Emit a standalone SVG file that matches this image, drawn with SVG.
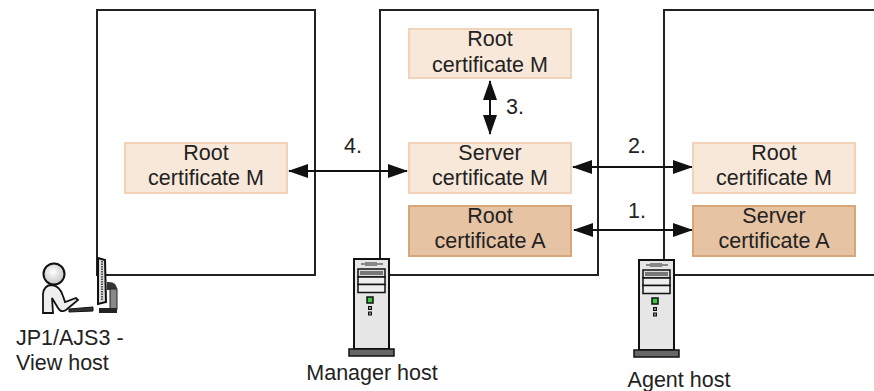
<svg xmlns="http://www.w3.org/2000/svg" width="874" height="391" viewBox="0 0 874 391">
<style>
text{font-family:"Liberation Sans",Arial,sans-serif;font-size:21.5px;fill:#222;text-anchor:middle}
.host{fill:#fff;stroke:#222;stroke-width:2}
.lt{fill:#f8e8da;stroke:#f0d3b8;stroke-width:2}
.dk{fill:#e6c3a3;stroke:#d9a67c;stroke-width:2}
.conn{stroke:#111;stroke-width:2;fill:none;marker-start:url(#a);marker-end:url(#a)}
.srv{fill:#e6e6e6;stroke:#111;stroke-width:2}
.slot{fill:#eee;stroke:#111;stroke-width:1.5}
</style>
<defs>
<marker id="a" viewBox="0 0 20 14" refX="19" refY="7" markerWidth="20" markerHeight="14" markerUnits="userSpaceOnUse" orient="auto-start-reverse"><path d="M0 0L20 7L0 14Z" fill="#111"/></marker>
<radialGradient id="h" cx="0.45" cy="0.4" r="0.7"><stop offset="0" stop-color="#fff"/><stop offset="1" stop-color="#bbb"/></radialGradient>
<g id="server">
<rect x="14" y="10" width="35" height="90" class="srv"/>
<path d="M21 15H43" stroke="#888" stroke-width="2"/><rect x="25" y="13" width="12" height="4" fill="#888"/>
<rect x="18" y="20" width="27" height="8" fill="#ddd" stroke="#111" stroke-width="1.5"/>
<rect x="20" y="22" width="23" height="4" fill="#777"/>
<rect x="18" y="28" width="27" height="7.500" class="slot"/>
<rect x="18" y="35.500" width="27" height="8" class="slot"/>
<rect x="27" y="48" width="6" height="6" fill="#3fc93f" stroke="#111" stroke-width="1.500"/>
<rect x="28.500" y="57.500" width="3" height="3" fill="#888" stroke="#111" stroke-width="1"/>
<rect x="28.500" y="63" width="3" height="3" fill="#888" stroke="#111" stroke-width="1"/>
<rect x="9" y="100" width="45" height="7" fill="#666" stroke="#111" stroke-width="1.500"/>
</g>
</defs>

<g id="view-box"><path class="host" d="M97 10H315V275H97Z"/></g>
<g id="manager-box"><rect class="host" x="380" y="10" width="218" height="265"/></g>
<g id="agent-box"><path class="host" d="M874 10H664V275H874"/></g>

<g id="connectors">
<line class="conn" x1="289" y1="171" x2="407" y2="171"/>
<line class="conn" x1="573" y1="167" x2="692" y2="167"/>
<line class="conn" x1="574" y1="230" x2="692" y2="230"/>
<line class="conn" x1="490" y1="81" x2="490" y2="134"/>
</g>

<g id="cert-view"><rect class="lt" x="125" y="143" width="162" height="50"/><text x="206" y="160">Root</text><text x="206" y="185">certificate M</text></g>
<g id="cert-m-root"><rect class="lt" x="409" y="29" width="162" height="49"/><text x="490" y="46">Root</text><text x="490" y="72">certificate M</text></g>
<g id="cert-m-server"><rect class="lt" x="409" y="143" width="162" height="50"/><text x="490" y="160">Server</text><text x="490" y="185">certificate M</text></g>
<g id="cert-a-root"><rect class="dk" x="409" y="206" width="162" height="50"/><text x="490" y="223">Root</text><text x="490" y="248">certificate A</text></g>
<g id="cert-agent-root"><rect class="lt" x="693" y="143" width="162" height="50"/><text x="774" y="160">Root</text><text x="774" y="185">certificate M</text></g>
<g id="cert-agent-server"><rect class="dk" x="693" y="206" width="162" height="50"/><text x="774" y="223">Server</text><text x="774" y="248">certificate A</text></g>

<g id="labels">
<text x="353" y="153">4.</text>
<text x="515" y="114">3.</text>
<text x="637" y="153">2.</text>
<text x="637" y="218">1.</text>
</g>

<g id="view-host">
<circle cx="54" cy="274" r="10.500" fill="url(#h)" stroke="#111" stroke-width="2"/>
<path d="M43 313V294Q44 285 52 285Q60 286 63 296L65 302L76 298L78 300L66 310Q61 313 58 308L52 298L53 313Z" fill="#eee" stroke="#111" stroke-width="1.800"/>
<path d="M69 309L93 307V311L69 312Z" fill="#333" stroke="#111" stroke-width="1"/>
<path d="M98 258L105 260L106 302L98 304Z" fill="#ddd" stroke="#111" stroke-width="2"/>
<path d="M102 261V301" stroke="#555" stroke-width="2" stroke-dasharray="1.500 1"/>
<path d="M107 282Q117 281 117 290H107Z" fill="#333"/>
<rect x="110" y="289" width="7" height="20" fill="#888" stroke="#222" stroke-width="1"/>
<rect x="99" y="308" width="18" height="5" fill="#222"/>
<text x="16" y="345" style="text-anchor:start">JP1/AJS3 -</text>
<text x="16" y="370" style="text-anchor:start">View host</text>
</g>
<g id="manager-host">
<use href="#server" x="340" y="249"/>
<text x="372" y="380">Manager host</text>
</g>
<g id="agent-host">
<use href="#server" x="625" y="250"/>
<text x="679" y="387">Agent host</text>
</g>
</svg>
